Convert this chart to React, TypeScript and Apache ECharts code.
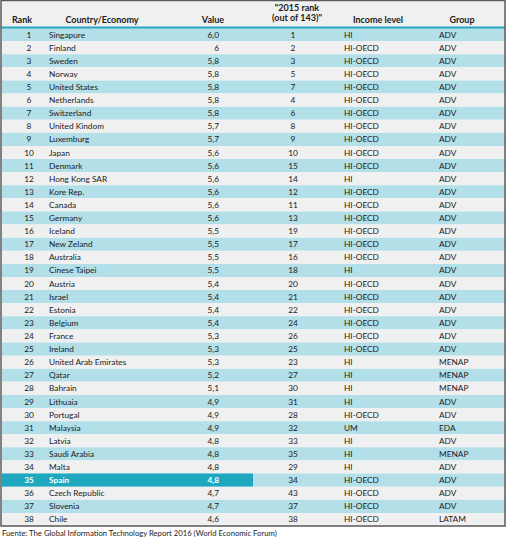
import React, { useEffect, useRef } from "react";
import * as echarts from "echarts";

const ranks = [1,2,3,4,5,6,7,8,9,10,11,12,13,14,15,16,17,18,19,20,21,22,23,24,25,26,27,28,29,30,31,32,33,34,35,36,37,38];
const countries = ["Singapure","Finland","Sweden","Norway","United States","Netherlands","Switzerland","United Kindom","Luxemburg","Japan","Denmark","Hong Kong SAR","Kore Rep.","Canada","Germany","Iceland","New Zeland","Australia","Cinese Taipei","Austria","Israel","Estonia","Belgium","France","Ireland","United Arab Emirates","Qatar","Bahrain","Lithuaia","Portugal","Malaysia","Latvia","Saudi Arabia","Malta","Spain","Czech Republic","Slovenia","Chile"];
const values = ["6,0","6","5,8","5,8","5,8","5,8","5,8","5,7","5,7","5,6","5,6","5,6","5,6","5,6","5,6","5,5","5,5","5,5","5,5","5,4","5,4","5,4","5,4","5,3","5,3","5,3","5,2","5,1","4,9","4,9","4,9","4,8","4,8","4,8","4,8","4,7","4,7","4,6"];
const rank2015 = [1,2,3,5,7,4,6,8,9,10,15,14,12,11,13,19,17,16,18,20,21,22,24,26,25,23,27,30,31,28,32,33,35,29,34,43,37,38];
const incomes = ["HI","HI-OECD","HI-OECD","HI-OECD","HI-OECD","HI-OECD","HI-OECD","HI-OECD","HI-OECD","HI-OECD","HI-OECD","HI","HI-OECD","HI-OECD","HI-OECD","HI-OECD","HI-OECD","HI-OECD","HI","HI-OECD","HI-OECD","HI-OECD","HI-OECD","HI-OECD","HI-OECD","HI","HI","HI","HI","HI-OECD","UM","HI","HI","HI","HI-OECD","HI-OECD","HI-OECD","HI-OECD"];
const groups = ["ADV","ADV","ADV","ADV","ADV","ADV","ADV","ADV","ADV","ADV","ADV","ADV","ADV","ADV","ADV","ADV","ADV","ADV","ADV","ADV","ADV","ADV","ADV","ADV","ADV","MENAP","MENAP","MENAP","ADV","ADV","EDA","ADV","MENAP","ADV","ADV","ADV","ADV","LATAM"];
const headers = ["Rank", "Country/Economy", "Value", "\"2015 rank\n(out of 143)\"", "Income level", "Group"];
const highlighted = "Spain";
const source = "Fuente: The Global Information Technology Report 2016 (World Economic Forum)";

const FONT = "Lato, 'Open Sans', sans-serif";
const BLUE = "#b3dfe9";
const GRAY = "#f0f0f0";
const TEAL = "#1ea7bf";
const TXT = "#1b1b1b";

export default function App() {
  const ref = useRef<HTMLDivElement>(null);
  useEffect(() => {
    if (!ref.current) return;
    const chart = echarts.init(ref.current, null, { renderer: "svg" });
    const headerX = [22, 102, 213, 297, 378, 462];
    const headerY = [19, 19, 19, 12, 19, 19];
    const option: any = {
      animation: false,
      grid: { left: 0, right: 0, top: 28, bottom: 14 },
      xAxis: { type: "value", min: 0, max: 507, show: false },
      yAxis: { type: "category", data: ranks.map(String), inverse: true, show: false },
      series: [
        {
          type: "custom",
          clip: false,
          encode: { x: 0, y: 1 },
          data: ranks.map((_, i) => [0, i]),
          renderItem: (params: any, api: any) => {
            const i = api.value(1);
            const yc = api.coord([0, i])[1];
            const h = api.size([0, 1])[1];
            const top = yc - h / 2;
            const X = (v: number) => api.coord([v, i])[0];
            const isHi = countries[i] === highlighted;
            const bg = i % 2 === 0 ? BLUE : GRAY;
            const children: any[] = [
              { type: "rect", shape: { x: X(2), y: top, width: X(505) - X(2), height: h }, style: { fill: isHi ? BLUE : bg } },
            ];
            if (isHi) {
              children.push({ type: "rect", shape: { x: X(2), y: top, width: X(253) - X(2), height: h }, style: { fill: TEAL } });
            }
            const fillL = isHi ? "#ffffff" : TXT;
            const weightL = isHi ? "bold" : "normal";
            const t = (text: string, x: number, align: string, fill: string, weight: string) => ({
              type: "text",
              style: {
                text,
                x: X(x),
                y: yc,
                textAlign: align,
                textVerticalAlign: "middle",
                fill,
                fontSize: 8.3,
                fontFamily: FONT,
                fontWeight: weight,
              },
            });
            children.push(t(String(ranks[i]), 29, "center", fillL, weightL));
            children.push(t(countries[i], 49, "left", fillL, weightL));
            children.push(t(values[i], 219, "right", fillL, weightL));
            children.push(t(String(rank2015[i]), 293, "center", TXT, "normal"));
            children.push(t(incomes[i], 344, "left", TXT, "normal"));
            children.push(t(groups[i], 439, "left", TXT, "normal"));
            return { type: "group", children };
          },
        },
      ],
      graphic: [
        { type: "rect", shape: { x: 1, y: 0, width: 504, height: 27 }, style: { fill: GRAY }, z: 0 },
        { type: "line", shape: { x1: 1, y1: 27.5, x2: 505, y2: 27.5 }, style: { stroke: "#2aa8c0", lineWidth: 2 }, z: 10 },
        ...headers.map((hd, k) => ({
          type: "text",
          z: 10,
          style: {
            text: hd,
            x: headerX[k],
            y: headerY[k],
            textAlign: "center",
            textVerticalAlign: "middle",
            fill: TXT,
            fontSize: 9,
            fontWeight: "bold",
            fontFamily: FONT,
            lineHeight: 10,
          },
        })),
        { type: "rect", shape: { x: 1, y: 0.5, width: 504, height: 525.5 }, style: { fill: "none", stroke: "#5a5a5a", lineWidth: 1.5 }, z: 20 },
        {
          type: "text",
          z: 10,
          style: { text: source, x: 2, y: 533, textVerticalAlign: "middle", fill: TXT, fontSize: 7.7, fontFamily: FONT },
        },
      ],
    };
    chart.setOption(option);
    return () => chart.dispose();
  }, []);
  return <div ref={ref} style={{ position: "absolute", left: 0, top: 0, width: 507, height: 540, background: "#ffffff" }} />;
}
